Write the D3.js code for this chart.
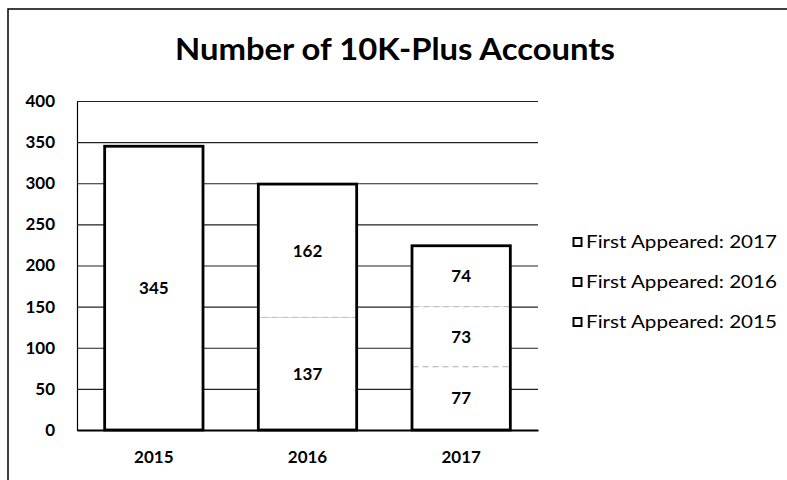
<!DOCTYPE html>
<html>
<head>
<meta charset="utf-8">
<script src="https://cdn.jsdelivr.net/npm/d3@7"></script>
<style>
  body { margin: 0; background: #fff; }
</style>
</head>
<body>
<div id="chart"></div>
<script>
const width = 787, height = 480;

const years = ["2015", "2016", "2017"];
const seriesNames = ["First Appeared: 2015", "First Appeared: 2016", "First Appeared: 2017"];
const appeared2015 = [345, 137, 77];
const appeared2016 = [0, 162, 73];
const appeared2017 = [0, 0, 74];
const yTicks = [0, 50, 100, 150, 200, 250, 300, 350, 400];

const margin = {top: 101, right: 249, bottom: 50, left: 77};
const font = "Lato, 'Open Sans', sans-serif";

let table = years.map((y, i) => ({
    year: y,
    "First Appeared: 2015": appeared2015[i],
    "First Appeared: 2016": appeared2016[i],
    "First Appeared: 2017": appeared2017[i]
}));

let stack = d3.stack().keys(seriesNames)(table);

let svg = d3.select("#chart").append("svg")
    .attr("width", width)
    .attr("height", height);

// outer chart border
svg.append("rect")
    .attr("x", 8)
    .attr("y", 9)
    .attr("width", width + 10)
    .attr("height", height + 10)
    .attr("fill", "white")
    .attr("stroke", "black")
    .attr("stroke-width", 1.5);

let x = d3.scaleBand()
    .domain(years)
    .range([margin.left, width - margin.right])
    .paddingInner(0.36)
    .paddingOuter(0.18);

let y = d3.scaleLinear()
    .domain([0, 400])
    .range([height - margin.bottom, margin.top]);

// title
svg.append("text")
    .attr("x", 395)
    .attr("y", 60)
    .attr("text-anchor", "middle")
    .attr("font-family", font)
    .attr("font-weight", "bold")
    .attr("font-size", 31)
    .attr("textLength", 440)
    .attr("lengthAdjust", "spacingAndGlyphs")
    .text("Number of 10K-Plus Accounts");

// gridlines + y labels
let yAxis = g => g
    .attr("transform", `translate(${margin.left},0)`)
    .call(d3.axisLeft(y).tickValues(yTicks).tickSize(-(width - margin.right - margin.left)).tickPadding(22))
    .call(g => g.select(".domain").attr("stroke", "black").attr("stroke-width", 1.2))
    .call(g => g.selectAll(".tick line").attr("stroke", "#222").attr("stroke-width", 1.2))
    .call(g => g.selectAll(".tick text")
        .attr("font-family", font)
        .attr("font-weight", "bold")
        .attr("font-size", 17)
        .attr("fill", "black"));

svg.append("g").call(yAxis);

// x labels
let xAxis = g => g
    .attr("transform", `translate(0,${height - margin.bottom})`)
    .call(d3.axisBottom(x).tickSize(0).tickPadding(21))
    .call(g => g.select(".domain").attr("stroke", "black").attr("stroke-width", 1.8))
    .call(g => g.selectAll(".tick text")
        .attr("font-family", font)
        .attr("font-weight", "bold")
        .attr("font-size", 17)
        .attr("fill", "black"));

svg.append("g").call(xAxis);

// stacked segments
svg.append("g")
    .selectAll("g")
    .data(stack)
    .join("g")
    .selectAll("rect")
    .data(d => d.filter(s => s[1] > s[0]))
    .join("rect")
        .attr("x", d => x(d.data.year))
        .attr("width", x.bandwidth())
        .attr("y", d => y(d[1]))
        .attr("height", d => y(d[0]) - y(d[1]))
        .attr("fill", "white")
        .attr("stroke", "#bbb")
        .attr("stroke-dasharray", "6,4")
        .attr("stroke-width", 1);

// outline each bar
svg.append("g")
    .selectAll("rect")
    .data(table)
    .join("rect")
        .attr("x", d => x(d.year))
        .attr("width", x.bandwidth())
        .attr("y", d => y(d3.sum(seriesNames, k => d[k])))
        .attr("height", d => y(0) - y(d3.sum(seriesNames, k => d[k])))
        .attr("fill", "none")
        .attr("stroke", "black")
        .attr("stroke-width", 2.8);

// value labels
svg.append("g")
    .selectAll("g")
    .data(stack)
    .join("g")
    .selectAll("text")
    .data(d => d.filter(s => s[1] > s[0]))
    .join("text")
        .attr("x", d => x(d.data.year) + x.bandwidth() / 2)
        .attr("y", d => y((d[0] + d[1]) / 2))
        .attr("dy", "0.35em")
        .attr("text-anchor", "middle")
        .attr("font-family", font)
        .attr("font-weight", "bold")
        .attr("font-size", 17)
        .text(d => d[1] - d[0]);

// legend
let legend = svg.append("g")
    .attr("transform", "translate(573,242)")
    .selectAll("g")
    .data(seriesNames.slice().reverse())
    .join("g")
        .attr("transform", (d, i) => `translate(0,${i * 40})`);

legend.append("rect")
    .attr("x", 0.5)
    .attr("y", -4)
    .attr("width", 8)
    .attr("height", 8)
    .attr("fill", "white")
    .attr("stroke", "black")
    .attr("stroke-width", 2);

legend.append("text")
    .attr("x", 13)
    .attr("dy", "0.35em")
    .attr("font-family", font)
    .attr("font-size", 17)
    .attr("textLength", 191)
    .attr("lengthAdjust", "spacingAndGlyphs")
    .text(d => d);
</script>
</body>
</html>
